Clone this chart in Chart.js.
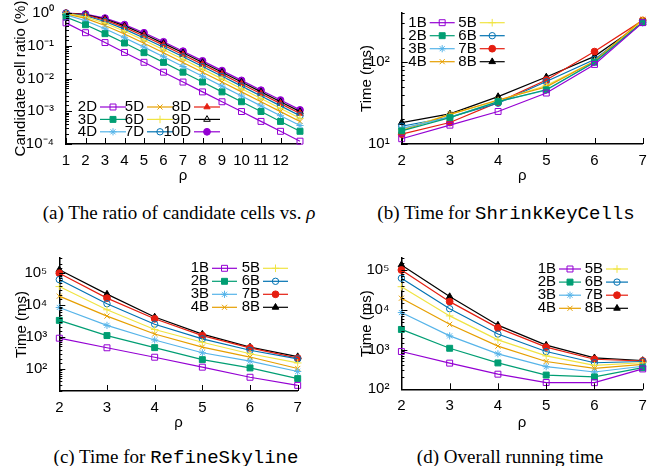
<!DOCTYPE html>
<html>
<head>
<meta charset="utf-8">
<title>Candidate cells and running time vs rho</title>
<script src="https://cdn.jsdelivr.net/npm/chart.js@4.4.1/dist/chart.umd.min.js"></script>
<style>
  html, body { margin: 0; padding: 0; background: #fff; }
  body { width: 662px; height: 466px; position: relative; overflow: hidden; }
  canvas { position: absolute; }
  .cap { position: absolute; font-family: 'Liberation Serif', 'Times New Roman', serif; font-size: 19px;
         white-space: nowrap; transform: translate(-50%, -50%); color: #000; }
  .cap .code { font-family: 'Liberation Mono', 'Courier New', monospace; }
</style>
</head>
<body>
<canvas id="chartA" width="331" height="185" style="left:0;top:0"></canvas>
<canvas id="chartB" width="331" height="185" style="left:331px;top:0"></canvas>
<canvas id="chartC" width="331" height="187" style="left:0;top:245px"></canvas>
<canvas id="chartD" width="331" height="187" style="left:331px;top:245px"></canvas>

<div class="cap" style="left:179px;top:213px">(a) The ratio of candidate cells vs. <i>ρ</i></div>
<div class="cap" style="left:506px;top:213px">(b) Time for <span class="code">ShrinkKeyCells</span></div>
<div class="cap" style="left:176px;top:457px">(c) Time for <span class="code">RefineSkyline</span></div>
<div class="cap" style="left:510px;top:457px">(d) Overall running time</div>

<script>
// ---- data (a): candidate cell ratio (%) vs rho, one series per dimensionality
const rhoA = ['1', '2', '3', '4', '5', '6', '7', '8', '9', '10', '11', '12', '13'];
const dimLabels = ['2D', '3D', '4D', '5D', '6D', '7D', '8D', '9D', '10D'];
const ratio2D = [0.5, 0.25, 0.125, 0.0625, 0.03125, 0.0156, 0.0078, 0.0039, 0.00195, 0.00098, 0.00049, 0.000244, 0.000122];
const ratio3D = [0.75, 0.4375, 0.234, 0.121, 0.0615, 0.031, 0.01556, 0.0078, 0.0039, 0.00195, 0.00098, 0.000488, 0.000244];
const ratio4D = [0.875, 0.578, 0.33, 0.176, 0.0909, 0.0462, 0.02325, 0.01167, 0.00585, 0.00293, 0.00146, 0.000732, 0.000366];
const ratio5D = [0.9375, 0.684, 0.414, 0.228, 0.119, 0.0611, 0.0309, 0.01553, 0.00779, 0.0039, 0.00195, 0.000976, 0.000488];
const ratio6D = [0.969, 0.763, 0.487, 0.276, 0.147, 0.0757, 0.0385, 0.01938, 0.00973, 0.00487, 0.00244, 0.00122, 0.00061];
const ratio7D = [0.984, 0.822, 0.551, 0.321, 0.173, 0.0902, 0.046, 0.02321, 0.01166, 0.00585, 0.00293, 0.00146, 0.000732];
const ratio8D = [0.992, 0.867, 0.607, 0.364, 0.199, 0.1044, 0.0534, 0.02702, 0.01359, 0.00682, 0.00341, 0.00171, 0.000854];
const ratio9D = [0.996, 0.9, 0.656, 0.403, 0.224, 0.1184, 0.0608, 0.03082, 0.01552, 0.00779, 0.0039, 0.00195, 0.000976];
const ratio10D = [0.998, 0.925, 0.699, 0.441, 0.249, 0.1321, 0.0682, 0.03461, 0.01744, 0.00875, 0.00439, 0.0022, 0.0011];

// ---- data (b)-(d): time in ms vs rho, one series per buffer setting
const rhoB = ['2', '3', '4', '5', '6', '7'];
const bufLabels = ['1B', '2B', '3B', '4B', '5B', '6B', '7B', '8B'];

const shrink1B = [11.6, 17, 25, 42, 94, 305];
const shrink2B = [14.5, 21, 33, 46, 100, 308];
const shrink3B = [15.5, 21.3, 33, 45.5, 100, 305];
const shrink4B = [14.5, 23, 34.5, 50, 103, 335];
const shrink5B = [15, 23, 34, 52, 103, 325];
const shrink6B = [16.5, 21.3, 31.5, 58, 108, 305];
const shrink7B = [13.2, 18.3, 32.3, 60.7, 135, 325];
const shrink8B = [18.3, 23.4, 38, 66, 118, 305];

const refine1B = [910, 455, 230, 112, 54, 30];
const refine2B = [3300, 1100, 460, 193, 106, 49];
const refine3B = [8400, 2300, 800, 318, 174, 82];
const refine4B = [19000, 4500, 1230, 480, 233, 102];
const refine5B = [38000, 7100, 1700, 680, 296, 152];
const refine6B = [63000, 11000, 2500, 870, 380, 205];
const refine7B = [100000, 16500, 3700, 1100, 450, 215];
const refine8B = [128000, 22000, 4200, 1220, 480, 240];

const total1B = [890, 455, 240, 148, 147, 325];
const total2B = [3200, 1075, 460, 228, 205, 350];
const total3B = [8500, 2200, 780, 370, 272, 380];
const total4B = [19500, 4300, 1220, 500, 335, 425];
const total5B = [38000, 7000, 1750, 690, 400, 465];
const total6B = [62000, 10600, 2450, 890, 465, 500];
const total7B = [100000, 16000, 3500, 1150, 570, 515];
const total8B = [134000, 21400, 4100, 1290, 620, 530];

// ---- look
const FONT = "'Liberation Sans', Arial, sans-serif";
const FONT_PX = 15;
const PURPLE = '#9400d3', GREEN = '#009e73', SKY = '#56b4e9', ORANGE = '#e69f00',
      YELLOW = '#f0e442', BLUE = '#0072b2', RED = '#e51e10', BLACK = '#000000';

// gnuplot-like point types
const stylesA = [
  { color: PURPLE, shape: 'rect', filled: false, r: 4.2 },
  { color: GREEN, shape: 'rect', filled: true, r: 4.2 },
  { color: SKY, shape: 'star', r: 3.6 },
  { color: ORANGE, shape: 'crossRot', r: 3.6 },
  { color: YELLOW, shape: 'cross', r: 3.8 },
  { color: BLUE, shape: 'circle', filled: false, r: 3.2 },
  { color: RED, shape: 'triangle', filled: true, r: 3.6 },
  { color: BLACK, shape: 'triangle', filled: false, r: 3.8 },
  { color: PURPLE, shape: 'circle', filled: true, r: 3.4 }
];
const stylesB = [
  { color: PURPLE, shape: 'rect', filled: false, r: 4.2 },
  { color: GREEN, shape: 'rect', filled: true, r: 4.2 },
  { color: SKY, shape: 'star', r: 3.6 },
  { color: ORANGE, shape: 'crossRot', r: 3.6 },
  { color: YELLOW, shape: 'cross', r: 3.8 },
  { color: BLUE, shape: 'circle', filled: false, r: 3.2 },
  { color: RED, shape: 'circle', filled: true, r: 3.4 },
  { color: BLACK, shape: 'triangle', filled: true, r: 3.8 }
];

const SUP = { '-': '\u207B', '0': '\u2070', '1': '\u00B9', '2': '\u00B2', '3': '\u00B3', '4': '\u2074', '5': '\u2075' };
const powLabel = (v) => {
  const e = Math.log10(v);
  const r = Math.round(e);
  if (Math.abs(e - r) > 1e-6) return '';
  return '10' + String(r).split('').map(c => SUP[c]).join('');
};

const makeSet = (label, values, st) => ({
  label: label,
  data: values,
  borderColor: st.color,
  backgroundColor: st.color,
  borderWidth: 1.2,
  pointStyle: st.shape,
  pointRadius: st.r,
  pointBorderWidth: 1,
  pointBorderColor: st.color,
  pointBackgroundColor: st.filled ? st.color : 'rgba(0,0,0,0)',
  tension: 0,
  clip: false
});

// small inward ticks like gnuplot (long on labelled ticks, short on minor ones)
const innerTicks = {
  id: 'innerTicks',
  afterDraw(chart) {
    const { ctx, chartArea: a } = chart;
    const xs = chart.scales.x, ys = chart.scales.y;
    ctx.save();
    ctx.strokeStyle = '#000';
    ctx.lineWidth = 1;
    ctx.beginPath();
    ys.ticks.forEach(t => {
      const py = Math.round(ys.getPixelForValue(t.value)) + 0.5;
      const len = t.label ? 6 : 3;
      ctx.moveTo(a.left, py);
      ctx.lineTo(a.left + len, py);
    });
    xs.ticks.forEach((t, i) => {
      if (!t.label) return;
      const px = Math.round(xs.getPixelForTick(i)) + 0.5;
      ctx.moveTo(px, a.bottom);
      ctx.lineTo(px, a.bottom - 6);
    });
    ctx.stroke();
    ctx.restore();
  }
};

// key drawn inside the plot, text right-aligned then line sample with marker
const keyBox = {
  id: 'keyBox',
  afterDraw(chart, args, o) {
    const ctx = chart.ctx;
    const drawPoint = Chart.helpers && Chart.helpers.drawPoint;
    ctx.save();
    ctx.font = FONT_PX + 'px ' + FONT;
    ctx.textAlign = 'right';
    ctx.textBaseline = 'middle';
    chart.data.datasets.forEach((ds, i) => {
      const col = Math.floor(i / o.rows), row = i % o.rows;
      const tx = o.x + col * o.colW, ty = o.y + row * o.rowH;
      ctx.fillStyle = '#000';
      ctx.fillText(ds.label, tx, ty);
      ctx.strokeStyle = ds.borderColor;
      ctx.lineWidth = ds.borderWidth;
      ctx.beginPath();
      ctx.moveTo(tx + 3, ty);
      ctx.lineTo(tx + 3 + o.len, ty);
      ctx.stroke();
      if (drawPoint) {
        ctx.fillStyle = ds.pointBackgroundColor;
        ctx.strokeStyle = ds.pointBorderColor;
        ctx.lineWidth = ds.pointBorderWidth;
        drawPoint(ctx, { pointStyle: ds.pointStyle, radius: ds.pointRadius, borderWidth: 1, rotation: 0 },
          tx + 3 + o.len / 2, ty);
      }
    });
    ctx.restore();
  }
};

function panel(id, p) {
  return new Chart(document.getElementById(id), {
    type: 'line',
    data: {
      labels: p.labels,
      datasets: p.series.map((vals, i) => makeSet(p.names[i], vals, p.styles[i]))
    },
    options: {
      responsive: false,
      animation: false,
      devicePixelRatio: 1,
      layout: { padding: { left: p.pad.left, top: p.pad.top, right: p.pad.right, bottom: 0 } },
      plugins: {
        legend: { display: false },
        tooltip: { enabled: false },
        keyBox: p.key
      },
      scales: {
        x: {
          type: 'category',
          offset: false,
          grid: { display: false },
          border: { display: true, color: '#000', width: 1.5 },
          ticks: {
            color: '#000', font: { family: FONT, size: FONT_PX }, padding: 0,
            maxRotation: 0, autoSkip: false,
            callback: (v, i) => (p.hideLast && i === p.labels.length - 1) ? '' : p.labels[i]
          },
          title: { display: true, text: 'ρ', color: '#000', font: { family: FONT, size: FONT_PX }, padding: 0 },
          afterFit: (s) => { s.height = p.xHeight; }
        },
        y: {
          type: 'logarithmic',
          min: p.yMin,
          max: p.yMax,
          grid: { display: false },
          border: { display: true, color: '#000', width: 1.5 },
          ticks: {
            color: '#000', font: { family: FONT, size: FONT_PX }, padding: 4, autoSkip: false,
            callback: (v) => powLabel(v)
          },
          title: { display: true, text: p.yTitle, color: '#000', font: { family: FONT, size: FONT_PX }, padding: 0 },
          afterFit: (s) => { s.width = p.yWidth; }
        }
      }
    },
    plugins: [innerTicks, keyBox]
  });
}

panel('chartA', {
  labels: rhoA, hideLast: true,
  names: dimLabels, styles: stylesA,
  series: [ratio2D, ratio3D, ratio4D, ratio5D, ratio6D, ratio7D, ratio8D, ratio9D, ratio10D],
  yMin: 0.0001, yMax: 1, yTitle: 'Candidate cell ratio (%)',
  pad: { left: 12, top: 12, right: 31 }, yWidth: 54, xHeight: 41,
  key: { x: 97, y: 107, colW: 47, rowH: 12.4, rows: 3, len: 26 }
});

panel('chartB', {
  labels: rhoB,
  names: bufLabels, styles: stylesB,
  series: [shrink1B, shrink2B, shrink3B, shrink4B, shrink5B, shrink6B, shrink7B, shrink8B],
  yMin: 10, yMax: 400, yTitle: 'Time (ms)',
  pad: { left: 27, top: 12, right: 19.3 }, yWidth: 43.7, xHeight: 41,
  key: { x: 95.7, y: 22.7, colW: 50, rowH: 13, rows: 4, len: 25 }
});

panel('chartC', {
  labels: rhoB,
  names: bufLabels, styles: stylesB,
  series: [refine1B, refine2B, refine3B, refine4B, refine5B, refine6B, refine7B, refine8B],
  yMin: 20, yMax: 300000, yTitle: 'Time (ms)',
  pad: { left: 12.7, top: 12, right: 33.3 }, yWidth: 46.6, xHeight: 41,
  key: { x: 209, y: 23.3, colW: 51, rowH: 13, rows: 4, len: 25 }
});

panel('chartD', {
  labels: rhoB,
  names: bufLabels, styles: stylesB,
  series: [total1B, total2B, total3B, total4B, total5B, total6B, total7B, total8B],
  yMin: 100, yMax: 200000, yTitle: 'Time (ms)',
  pad: { left: 26.7, top: 12.3, right: 19.3 }, yWidth: 43.7, xHeight: 42.7,
  key: { x: 225, y: 24, colW: 47, rowH: 13.1, rows: 4, len: 22 }
});
</script>
</body>
</html>
